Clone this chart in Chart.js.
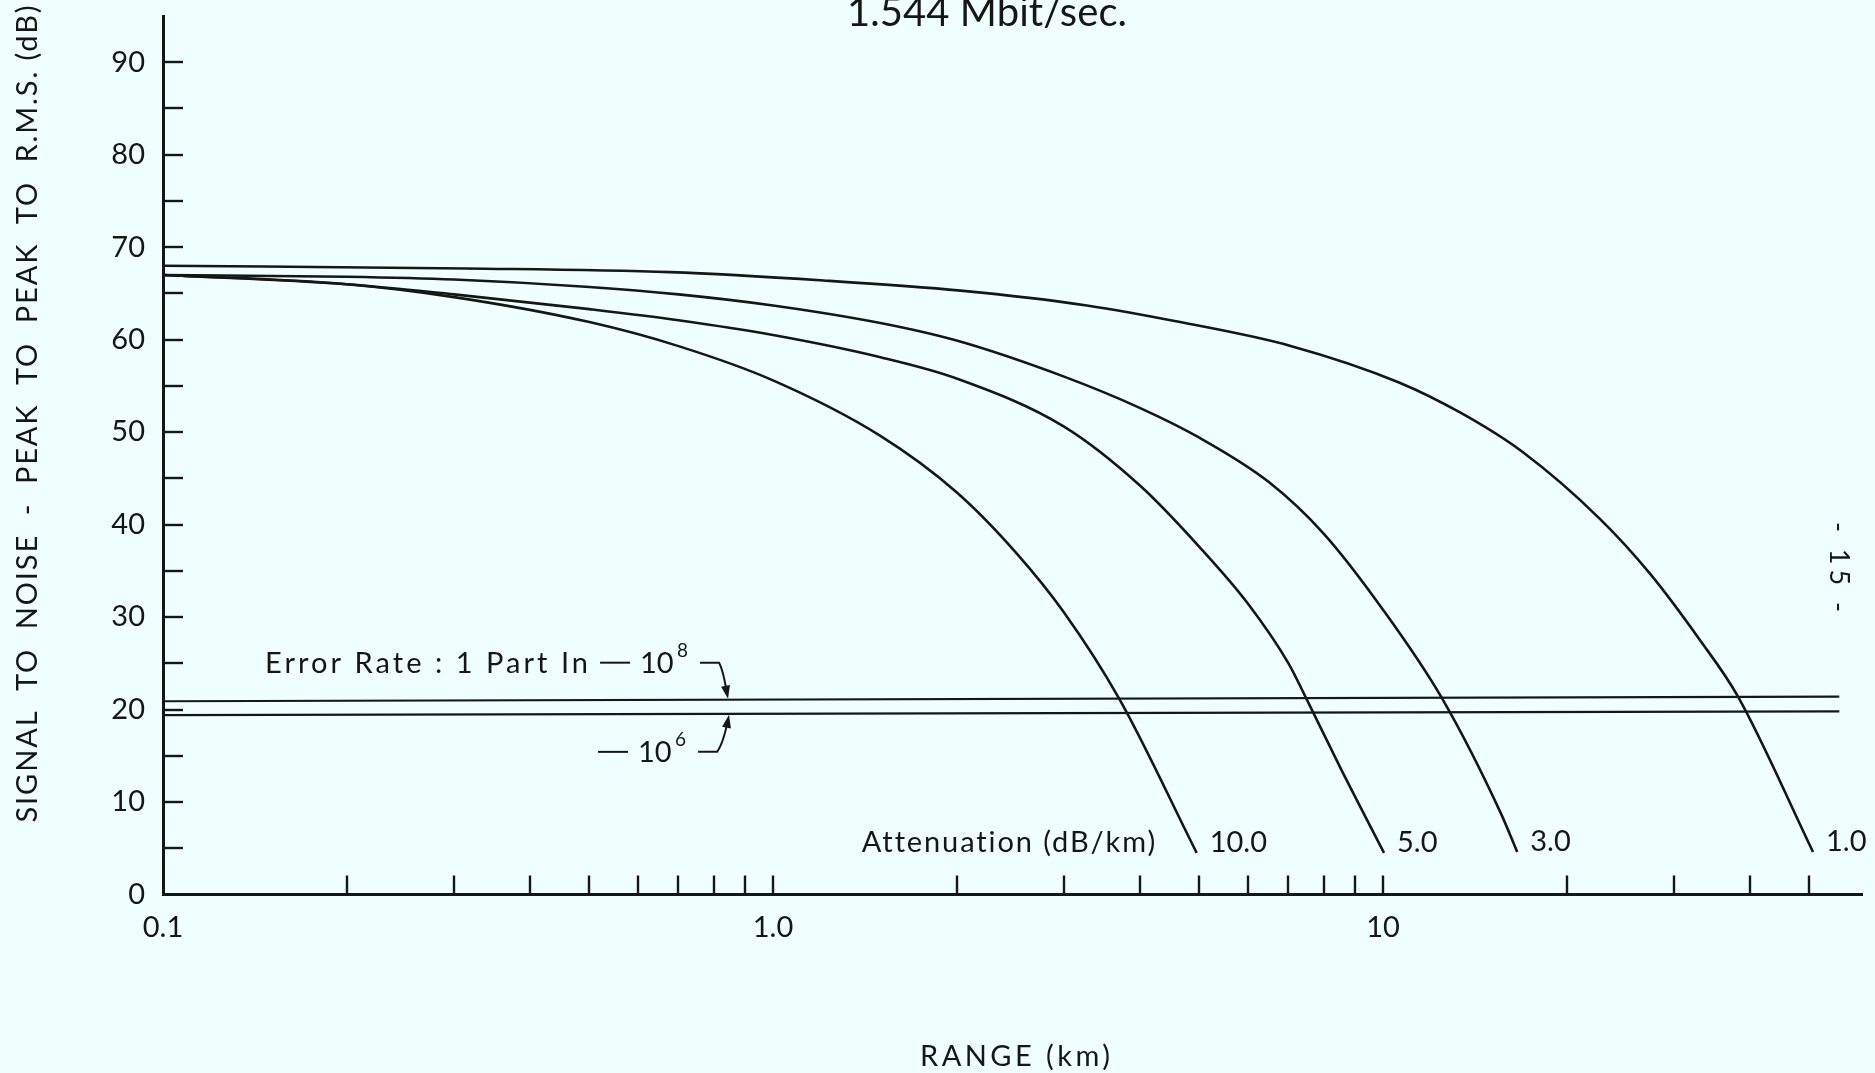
<!DOCTYPE html>
<html>
<head>
<meta charset="utf-8">
<script src="https://cdn.jsdelivr.net/npm/chart.js@4"></script>
<style>
    html, body { margin: 0; padding: 0; background: #effffe; }
    #wrap { width: 1875px; height: 1073px; position: relative; }
</style>
</head>
<body>
<div id="wrap"><canvas id="snrChart"></canvas></div>
<script>
const INK = "#161616";
const PAPER = "#effffe";
const FONT = "Lato, 'DejaVu Sans', sans-serif";

// curves, one per fibre attenuation (dB/km): range in km, S/N in dB
const atten10Range = [0.1, 0.2, 0.3, 0.5, 0.7, 1.0, 1.5, 2.0, 2.5, 3.0, 3.7, 4.95];
const atten10Snr = [67.0, 66.0, 64.6, 61.9, 59.3, 55.6, 49.6, 43.5, 37.0, 30.5, 21.1, 4.5];

const atten5Range = [0.1, 0.2, 0.3, 0.5, 0.7, 1.0, 1.5, 2.0, 3.0, 4.0, 5.0, 6.0, 7.0, 7.5, 8.5, 10.04];
const atten5Snr = [67.0, 66.0, 64.9, 63.3, 62.1, 60.5, 58.1, 55.8, 50.6, 44.2, 37.6, 31.5, 25.0, 21.1, 13.8, 4.5];

const atten3Range = [0.1, 0.2, 0.3, 0.5, 0.7, 1.0, 1.5, 2.0, 3.0, 4.0, 5.0, 6.5, 8.0, 10.0, 12.5, 15.6, 16.6];
const atten3Snr = [67.0, 66.8, 66.5, 65.7, 64.9, 63.7, 61.8, 59.9, 56.0, 52.6, 49.4, 44.6, 39.0, 30.8, 21.2, 8.8, 4.6];

const atten1Range = [0.1, 0.314, 0.678, 1.21, 2.03, 3.27, 4.65, 7.08, 10.6, 13.4, 16.9, 22.7, 27.4, 33.1, 38.2, 50.7];
const atten1Snr = [68.0, 67.7, 67.3, 66.4, 65.3, 63.7, 61.9, 59.3, 55.4, 52.1, 47.9, 40.6, 34.7, 27.5, 21.4, 4.6];

const attenLabels = ["10.0", "5.0", "3.0", "1.0"];

// error rate threshold lines
const errRange = [0.1, 56];
const err1e8Snr = [20.9, 21.4];
const err1e6Snr = [19.4, 19.8];
const errArrowRange = 0.844;

// axes
const xTickValues = [0.1, 0.2, 0.3, 0.4, 0.5, 0.6, 0.7, 0.8, 0.9, 1, 2, 3, 4, 5, 6, 7, 8, 9, 10, 20, 30, 40, 50];
const xLabelValues = [0.1, 1, 10];
const xLabelTexts = ["0.1", "1.0", "10"];
const yTickValues = [0, 5, 10, 15, 20, 25, 30, 35, 40, 45, 50, 55, 60, 65, 70, 75, 80, 85, 90];

const toPoints = (xs, ys) => xs.map((v, i) => ({ x: v, y: ys[i] }));

function curve(xs, ys) {
    return {
        data: toPoints(xs, ys),
        borderColor: INK,
        borderWidth: 2.6,
        pointRadius: 0,
        cubicInterpolationMode: "monotone",
        fill: false,
    };
}

function flatLine(xs, ys) {
    return {
        data: toPoints(xs, ys),
        borderColor: INK,
        borderWidth: 2.2,
        pointRadius: 0,
        tension: 0,
        fill: false,
    };
}

function fitText(ctx, str, x, y, size, width, align) {
    ctx.save();
    ctx.font = `${size}px ${FONT}`;
    ctx.letterSpacing = "0px";
    ctx.textAlign = "left";
    ctx.textBaseline = "alphabetic";
    const w0 = ctx.measureText(str).width;
    ctx.translate(x, y);
    let startX = align === "center" ? -width / 2 : align === "right" ? -width : 0;
    if (w0 > width) {
        const k = width / w0;
        ctx.scale(k, 1);
        startX /= k;
    } else if (str.length > 1) {
        ctx.letterSpacing = ((width - w0) / (str.length - 1)) + "px";
    }
    ctx.fillText(str, startX, 0);
    ctx.restore();
}

function plainText(ctx, str, x, y, size, align) {
    ctx.save();
    ctx.font = `${size}px ${FONT}`;
    ctx.textAlign = align || "left";
    ctx.textBaseline = "alphabetic";
    ctx.fillText(str, x, y);
    ctx.restore();
}

function arrowHead(ctx, fromX, fromY, tipX, tipY) {
    const ang = Math.atan2(tipY - fromY, tipX - fromX);
    const len = 13, half = 4.5;
    ctx.beginPath();
    ctx.moveTo(tipX, tipY);
    ctx.lineTo(tipX - len * Math.cos(ang) + half * Math.sin(ang), tipY - len * Math.sin(ang) - half * Math.cos(ang));
    ctx.lineTo(tipX - len * Math.cos(ang) - half * Math.sin(ang), tipY - len * Math.sin(ang) + half * Math.cos(ang));
    ctx.closePath();
    ctx.fill();
}

function lineAt(ys, v) {
    const t = Math.log10(v / errRange[0]) / Math.log10(errRange[1] / errRange[0]);
    return ys[0] + t * (ys[1] - ys[0]);
}

const paper = {
    id: "paper",
    beforeDraw(chart) {
        const { ctx, width, height } = chart;
        ctx.save();
        ctx.fillStyle = PAPER;
        ctx.fillRect(0, 0, width, height);
        ctx.restore();
    },
};

const annotate = {
    id: "annotate",
    afterDraw(chart) {
        const { ctx, chartArea, scales: { x, y } } = chart;
        ctx.save();
        ctx.strokeStyle = INK;
        ctx.fillStyle = INK;
        ctx.lineCap = "butt";

        // inward tick marks
        ctx.lineWidth = 2.4;
        xTickValues.slice(1).forEach((v) => {
            const px = Math.round(x.getPixelForValue(v));
            ctx.beginPath();
            ctx.moveTo(px, chartArea.bottom);
            ctx.lineTo(px, chartArea.bottom - 19);
            ctx.stroke();
        });
        yTickValues.slice(1).forEach((v) => {
            const py = Math.round(y.getPixelForValue(v));
            ctx.beginPath();
            ctx.moveTo(chartArea.left, py);
            ctx.lineTo(chartArea.left + 20, py);
            ctx.stroke();
        });

        // titles
        fitText(ctx, "1.544 Mbit/sec.", 987, 26, 40, 280, "center");
        fitText(ctx, "RANGE (km)", 1015, 1066, 29, 190, "center");

        ctx.save();
        ctx.translate(37, 414);
        ctx.rotate(-Math.PI / 2);
        fitText(ctx, "SIGNAL  TO  NOISE  -  PEAK  TO  PEAK  TO  R.M.S. (dB)", 0, 0, 29, 817, "center");
        ctx.restore();

        ctx.save();
        ctx.translate(1830, 567);
        ctx.rotate(Math.PI / 2);
        fitText(ctx, "- 15 -", 0, 0, 27, 90, "center");
        ctx.restore();

        // curve labels at the lower ends
        const curveEnds = [
            [atten10Range, atten10Snr],
            [atten5Range, atten5Snr],
            [atten3Range, atten3Snr],
            [atten1Range, atten1Snr],
        ];
        let firstEnd = null;
        curveEnds.forEach(([xs, ys], i) => {
            const ex = x.getPixelForValue(xs[xs.length - 1]);
            const ey = y.getPixelForValue(ys[ys.length - 1]);
            if (!firstEnd) firstEnd = { ex, ey };
            plainText(ctx, attenLabels[i], ex + 13, ey - 1, 29, "left");
        });
        fitText(ctx, "Attenuation (dB/km)", firstEnd.ex - 42, firstEnd.ey - 1, 29, 293, "right");

        // error rate callouts
        ctx.lineWidth = 2;
        const tx = x.getPixelForValue(errArrowRange);
        const ty8 = y.getPixelForValue(lineAt(err1e8Snr, errArrowRange));
        const ty6 = y.getPixelForValue(lineAt(err1e6Snr, errArrowRange));

        fitText(ctx, "Error Rate : 1 Part In", tx - 140, ty8 - 27, 29, 323, "right");
        ctx.beginPath();
        ctx.moveTo(tx - 128, ty8 - 37);
        ctx.lineTo(tx - 98, ty8 - 37);
        ctx.stroke();
        plainText(ctx, "10", tx - 88, ty8 - 27, 29, "left");
        plainText(ctx, "8", tx - 51, ty8 - 43, 19, "left");
        ctx.beginPath();
        ctx.moveTo(tx - 28, ty8 - 37);
        ctx.lineTo(tx - 9, ty8 - 37);
        ctx.quadraticCurveTo(tx - 5, ty8 - 30, tx - 1, ty8 - 6);
        ctx.stroke();
        arrowHead(ctx, tx - 3, ty8 - 16, tx, ty8 - 1);

        ctx.beginPath();
        ctx.moveTo(tx - 130, ty6 + 38);
        ctx.lineTo(tx - 100, ty6 + 38);
        ctx.stroke();
        plainText(ctx, "10", tx - 90, ty6 + 48, 29, "left");
        plainText(ctx, "6", tx - 53, ty6 + 32, 19, "left");
        ctx.beginPath();
        ctx.moveTo(tx - 30, ty6 + 38);
        ctx.lineTo(tx - 11, ty6 + 38);
        ctx.quadraticCurveTo(tx - 5, ty6 + 30, tx, ty6 + 6);
        ctx.stroke();
        arrowHead(ctx, tx - 2, ty6 + 16, tx + 1, ty6 + 1);

        ctx.restore();
    },
};

new Chart(document.getElementById("snrChart"), {
    type: "line",
    data: {
        datasets: [
            curve(atten10Range, atten10Snr),
            curve(atten5Range, atten5Snr),
            curve(atten3Range, atten3Snr),
            curve(atten1Range, atten1Snr),
            flatLine(errRange, err1e8Snr),
            flatLine(errRange, err1e6Snr),
        ],
    },
    options: {
        responsive: true,
        maintainAspectRatio: false,
        animation: false,
        events: [],
        layout: {
            padding: { top: 16, right: 13, left: 0, bottom: 0 },
        },
        plugins: {
            legend: { display: false },
            tooltip: { enabled: false },
        },
        scales: {
            x: {
                type: "logarithmic",
                min: 0.1,
                max: 61,
                afterBuildTicks: (scale) => {
                    scale.ticks = xTickValues.map((v) => ({ value: v }));
                },
                afterFit: (scale) => {
                    scale.height = 178.5;
                    scale.paddingLeft = 0;
                    scale.paddingRight = 0;
                },
                grid: { display: false },
                border: { display: true, color: INK, width: 3 },
                ticks: {
                    autoSkip: false,
                    maxRotation: 0,
                    padding: 8,
                    color: INK,
                    font: { family: FONT, size: 29 },
                    callback: (value) => {
                        const i = xLabelValues.findIndex((v) => Math.abs(v - value) < 1e-9);
                        return i >= 0 ? xLabelTexts[i] : "";
                    },
                },
            },
            y: {
                type: "linear",
                min: 0,
                max: 95,
                afterBuildTicks: (scale) => {
                    scale.ticks = yTickValues.map((v) => ({ value: v }));
                },
                afterFit: (scale) => {
                    scale.width = 163;
                    scale.paddingTop = 0;
                    scale.paddingBottom = 0;
                },
                grid: { display: false },
                border: { display: true, color: INK, width: 3 },
                ticks: {
                    autoSkip: false,
                    padding: 10,
                    color: INK,
                    font: { family: FONT, size: 29 },
                    callback: (value) => (value % 10 === 0 ? String(value) : ""),
                },
            },
        },
    },
    plugins: [paper, annotate],
});
</script>
</body>
</html>
